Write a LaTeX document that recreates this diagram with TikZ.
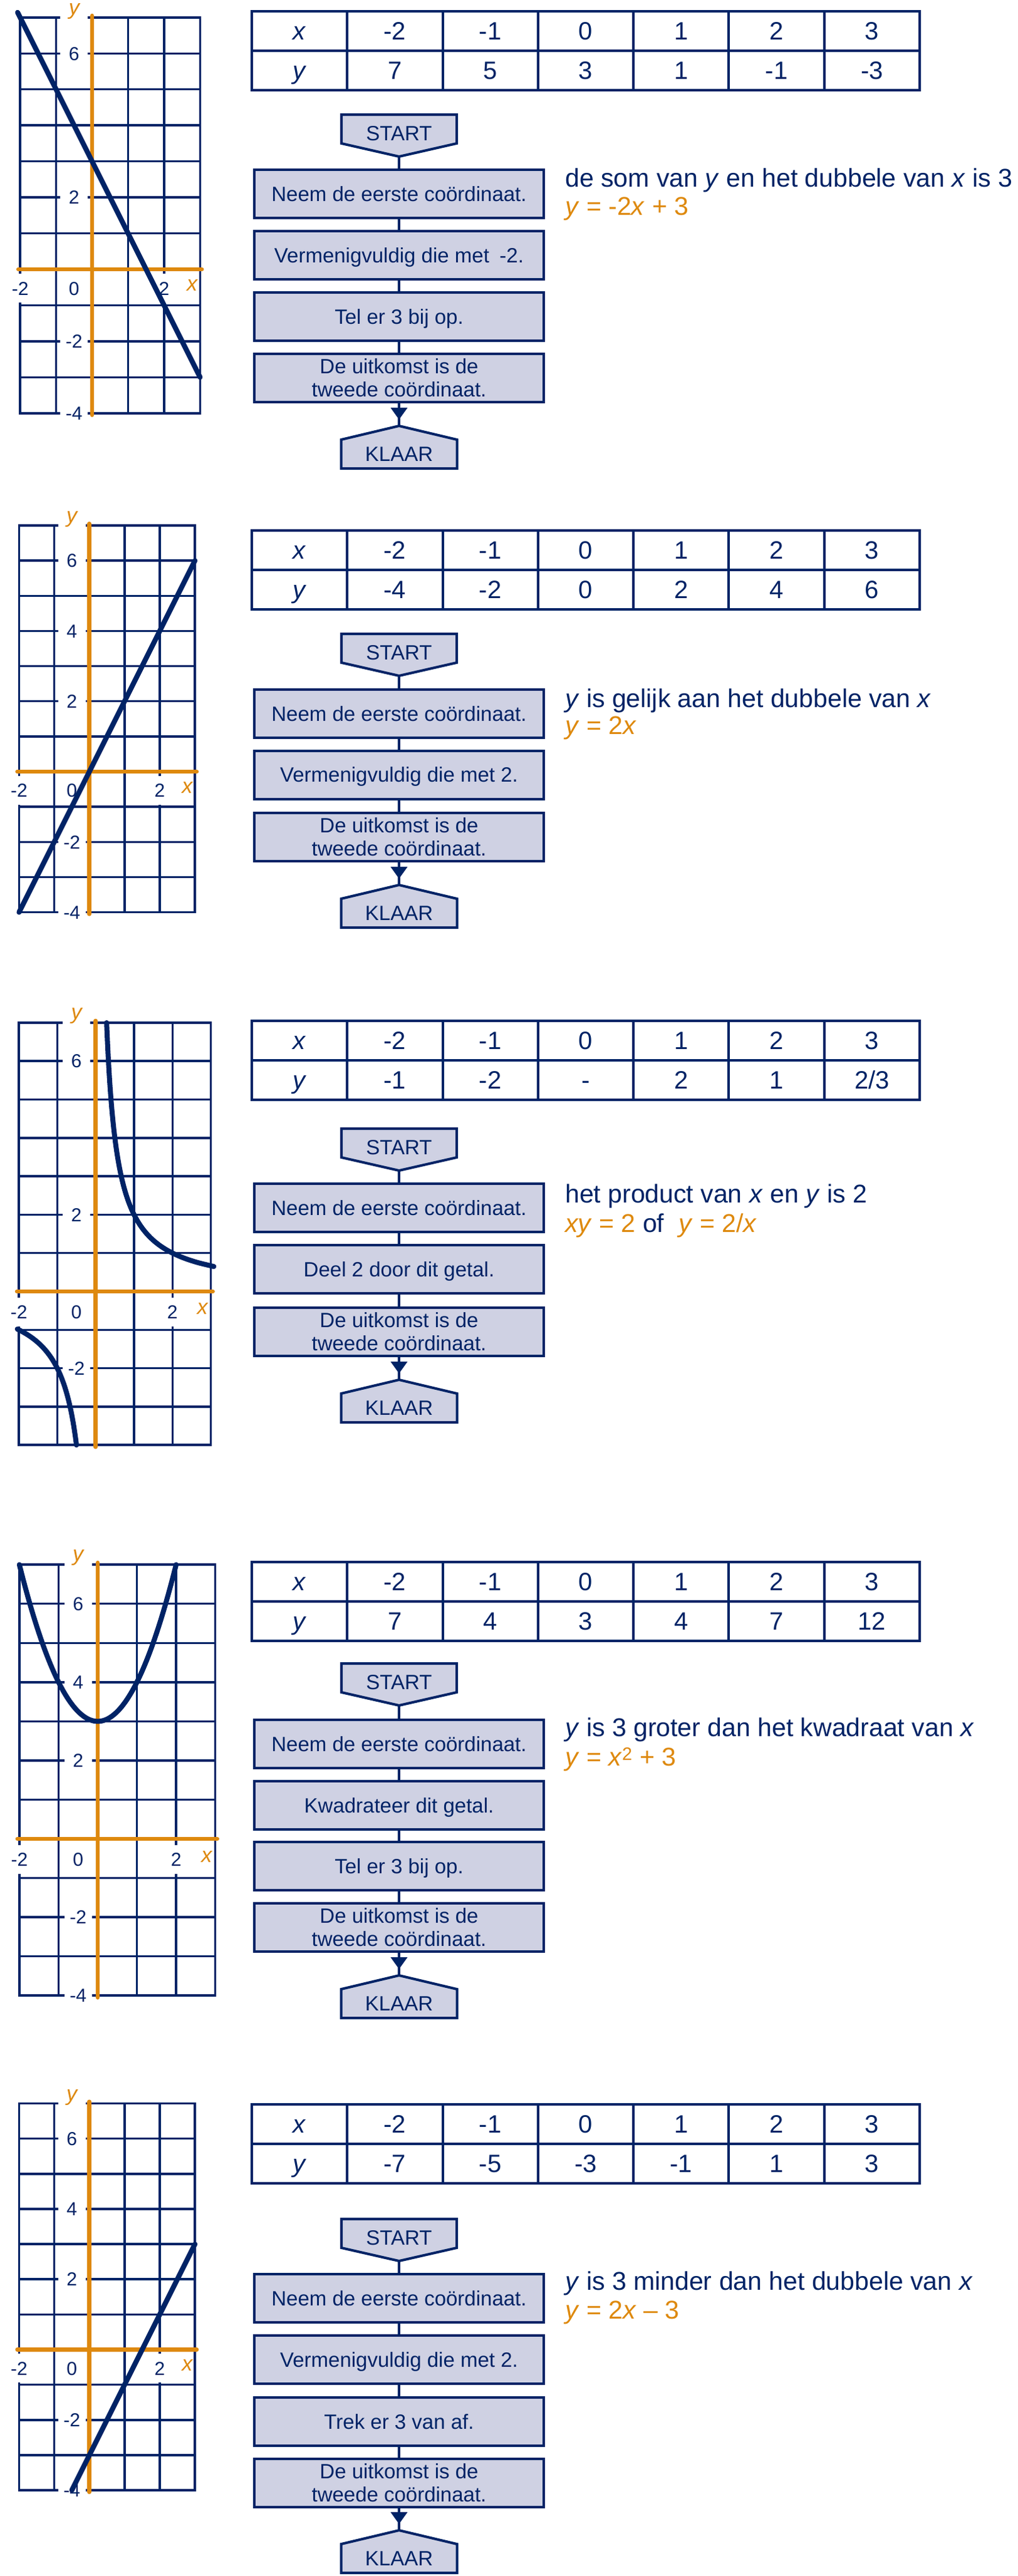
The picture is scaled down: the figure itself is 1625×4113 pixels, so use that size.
\documentclass[tikz,border=0pt]{standalone}
\usepackage{fontspec}
\setmainfont{Liberation Sans}
\usetikzlibrary{arrows.meta,backgrounds}
\definecolor{navy}{RGB}{0,35,102}
\definecolor{orng}{RGB}{222,137,13}
\definecolor{boxfill}{RGB}{207,209,227}
\newcommand{\setfs}[2]{\fontsize{#1bp}{#2bp}\selectfont}
\tikzset{
 gridln/.style={draw=navy, line width=3.5bp, line cap=rect},
 axisln/.style={draw=orng, line width=6.5bp, line cap=round},
 graphcurve/.style={draw=navy, line width=8bp, line cap=round, line join=round},
 glab/.style={fill=white, text=navy, font=\setfs{30}{30}, inner xsep=3bp, inner ysep=2bp, text height=21.5bp, text depth=0bp, outer sep=0pt},
 ylab/.style={glab, minimum width=44bp},
 xlab/.style={glab, minimum height=46bp},
 yname/.style={fill=white, text=orng, font=\setfs{34}{34}\itshape, minimum width=44bp, minimum height=30bp, inner sep=0pt},
 xname/.style={text=orng, font=\setfs{34}{34}\itshape, inner sep=0pt},
 tabline/.style={draw=navy, line width=4bp},
 tabtxt/.style={text=navy, font=\setfs{40}{40}, inner sep=0pt, text height=28.6bp, text depth=0bp},
 flowbox/.style={draw=navy, fill=boxfill, line width=4bp, minimum width=462bp, minimum height=77bp, inner sep=0pt, outer sep=0pt, text=navy},
 onebox/.style={flowbox, font=\setfs{33}{37}, text height=23.6bp, text depth=0bp},
 twobox/.style={flowbox, font=\setfs{33}{37}, align=center},
 startnode/.style={text=navy, font=\setfs{33}{37}, minimum width=184bp, minimum height=67bp, inner sep=0pt, outer sep=0pt, text height=23.6bp, text depth=7bp},
 klaarnode/.style={text=navy, font=\setfs{33}{37}, minimum width=185bp, minimum height=46bp, inner sep=0pt, outer sep=0pt, text height=23.6bp, text depth=0bp},
 shapeln/.style={draw=navy, fill=boxfill, line width=4bp, line join=miter},
 conn/.style={draw=navy, line width=4bp},
 tipconn/.style={conn, -{Triangle[width=26bp,length=19bp]}, shorten >=10bp},
 eqtxt/.style={text=navy, font=\setfs{41}{41}, inner sep=0pt, anchor=base west},
 eqor/.style={eqtxt, text=orng}
}
% graph panel: #1 X0, #2 Y0, #3 unit, #4 prefix, #5 y labels, #6 curve
\newcommand{\gridpanel}[6]{%
 \begin{scope}[shift={(#1,#2)}, x=#3bp, y=#3bp]
  \foreach \i in {-2,...,3} \draw[gridln] (\i,-4) -- (\i,7);
  \foreach \j in {-4,...,7} \draw[gridln] (-2,\j) -- (3,\j);
  \foreach \t [count=\c] in {#5} \node[ylab] (#4yl\c) at (-0.5,\t) {\t};
  \node[yname] (#4ny) at (-0.5,7.17) {y};
  \node[xlab] (#4xa) at (-2,-0.53) {-2};
  \node[xlab] (#4xb) at (-0.5,-0.53) {0};
  \node[xlab] (#4xc) at (2,-0.53) {2};
  \node[xname] (#4nx) at (2.78,-0.45) {x};
  \draw[axisln] (-2.05,0) -- (3.05,0);
  \draw[axisln] (0,-4.05) -- (0,7.05);
  #6
 \end{scope}}
% value table: #1 top, #2 prefix, #3 y values
\newcommand{\valtable}[3]{%
 \draw[tabline] (402,#1) rectangle (1468,#1+126);
 \draw[tabline] (402,#1+63) -- (1468,#1+63);
 \foreach \k in {1,...,6} \draw[tabline] ({402+\k*152.29},#1) -- ({402+\k*152.29},#1+126);
 \node[tabtxt] (#2x0) at (478.1,#1+31.5) {\textit{x}};
 \node[tabtxt] (#2y0) at (478.1,#1+94.5) {\textit{y}};
 \foreach \v [count=\k] in {-2,-1,0,1,2,3} \node[tabtxt] (#2x\k) at ({478.1+\k*152.29},#1+31.5) {\v};
 \foreach \v [count=\k] in {#3} \node[tabtxt] (#2y\k) at ({478.1+\k*152.29},#1+94.5) {\v};
}
% start / klaar outlines
\newcommand{\startshape}[1]{\draw[shapeln] (#1.north west) -- (#1.north east) -- ([yshift=21bp]#1.south east) -- (#1.south) -- ([yshift=21bp]#1.south west) -- cycle;}
\newcommand{\klaarshape}[2]{\draw[shapeln] (#1.south west) -- (#1.north west) -- (#2) -- (#1.north east) -- (#1.south east) -- cycle;}

\begin{document}
\begin{tikzpicture}[x=1bp, y=-1bp]
\begin{scope}[on background layer]
 \fill[white] (0,0) rectangle (1625,4113);
\end{scope}
\useasboundingbox (0,0) rectangle (1625,4113);

% ================= Panel 1 =================
\gridpanel{147}{430}{57.45}{g1}{6,2,-2,-4}{\draw[graphcurve] (-2.07,7.14) -- (3,-3);}
\valtable{18}{t1}{7,5,3,1,-1,-3}
\node[startnode] (p1s) at (637,216.5) {START};
\node[onebox] (p1b1) at (637,309.5) {Neem de eerste coördinaat.};
\node[onebox] (p1b2) at (637,407.5) {Vermenigvuldig die met\enspace-2.};
\node[onebox] (p1b3) at (637,505.5) {Tel er 3 bij op.};
\node[twobox] (p1b4) at (637,603.5) {De uitkomst is de\\tweede coördinaat.};
\node[klaarnode] (p1k) at (637,725) {KLAAR};
\coordinate (p1kt) at ([yshift=22bp]p1k.north);
\begin{scope}[on background layer]
 \startshape{p1s}
 \klaarshape{p1k}{p1kt}
\end{scope}
\draw[conn] (p1s.south) -- (p1b1.north);
\draw[conn] (p1b1.south) -- (p1b2.north);
\draw[conn] (p1b2.south) -- (p1b3.north);
\draw[conn] (p1b3.south) -- (p1b4.north);
\draw[conn] (p1b4.south) -- (p1kt);
\draw[tipconn] (p1b4.south) -- (p1kt);
\node[eqtxt] (p1e) at (902,298) {de som van \textit{y} en het dubbele van \textit{x} is 3};
\node[eqor] (p1f) at (902,343) {\textit{y} = -2\textit{x} + 3};

% ================= Panel 2 =================
\gridpanel{142.7}{1232}{56.15}{g2}{6,4,2,-2,-4}{\draw[graphcurve] (-2,-4) -- (3,6);}
\valtable{847}{t2}{-4,-2,0,2,4,6}
\node[startnode] (p2s) at (637,1045.5) {START};
\node[onebox] (p2b1) at (637,1139.5) {Neem de eerste coördinaat.};
\node[onebox] (p2b2) at (637,1237) {Vermenigvuldig die met 2.};
\node[twobox] (p2b3) at (637,1336.5) {De uitkomst is de\\tweede coördinaat.};
\node[klaarnode] (p2k) at (637,1458) {KLAAR};
\coordinate (p2kt) at ([yshift=22bp]p2k.north);
\begin{scope}[on background layer]
 \startshape{p2s}
 \klaarshape{p2k}{p2kt}
\end{scope}
\draw[conn] (p2s.south) -- (p2b1.north);
\draw[conn] (p2b1.south) -- (p2b2.north);
\draw[conn] (p2b2.south) -- (p2b3.north);
\draw[conn] (p2b3.south) -- (p2kt);
\draw[tipconn] (p2b3.south) -- (p2kt);
\node[eqtxt] (p2e) at (902,1129) {\textit{y} is gelijk aan het dubbele van \textit{x}};
\node[eqor] (p2f) at (902,1172) {\textit{y} = 2\textit{x}};

% ================= Panel 3 =================
\gridpanel{152.7}{2062}{61.3}{g3}{6,2,-2}{%
 \draw[graphcurve] plot[smooth, domain=0.65:7, samples=60, variable=\u] ({2/\u},\u);
 \draw[graphcurve] plot[smooth, domain=-0.98:-4, samples=50, variable=\u] ({2/\u},\u);}
\valtable{1630}{t3}{-1,-2,-,2,1,{2/3}}
\node[startnode] (p3s) at (637,1835.5) {START};
\node[onebox] (p3b1) at (637,1928.5) {Neem de eerste coördinaat.};
\node[onebox] (p3b2) at (637,2026.5) {Deel 2 door dit getal.};
\node[twobox] (p3b3) at (637,2126.5) {De uitkomst is de\\tweede coördinaat.};
\node[klaarnode] (p3k) at (637,2248) {KLAAR};
\coordinate (p3kt) at ([yshift=22bp]p3k.north);
\begin{scope}[on background layer]
 \startshape{p3s}
 \klaarshape{p3k}{p3kt}
\end{scope}
\draw[conn] (p3s.south) -- (p3b1.north);
\draw[conn] (p3b1.south) -- (p3b2.north);
\draw[conn] (p3b2.south) -- (p3b3.north);
\draw[conn] (p3b3.south) -- (p3kt);
\draw[tipconn] (p3b3.south) -- (p3kt);
\node[eqtxt] (p3e) at (902,1920) {het product van \textit{x} en \textit{y} is 2};
\node[eqor] (p3f) at (902,1967) {\textit{xy} = 2 \textcolor{navy}{of}\ \ \textit{y} = 2/\textit{x}};

% ================= Panel 4 =================
\gridpanel{156}{2936}{62.55}{g4}{6,4,2,-2,-4}{\draw[graphcurve] plot[smooth, domain=-2:2, samples=60] (\x,{\x*\x+3});}
\valtable{2494}{t4}{7,4,3,4,7,12}
\node[startnode] (p4s) at (637,2689.5) {START};
\node[onebox] (p4b1) at (637,2784.5) {Neem de eerste coördinaat.};
\node[onebox] (p4b2) at (637,2882.5) {Kwadrateer dit getal.};
\node[onebox] (p4b3) at (637,2979.5) {Tel er 3 bij op.};
\node[twobox] (p4b4) at (637,3077.5) {De uitkomst is de\\tweede coördinaat.};
\node[klaarnode] (p4k) at (637,3199) {KLAAR};
\coordinate (p4kt) at ([yshift=22bp]p4k.north);
\begin{scope}[on background layer]
 \startshape{p4s}
 \klaarshape{p4k}{p4kt}
\end{scope}
\draw[conn] (p4s.south) -- (p4b1.north);
\draw[conn] (p4b1.south) -- (p4b2.north);
\draw[conn] (p4b2.south) -- (p4b3.north);
\draw[conn] (p4b3.south) -- (p4b4.north);
\draw[conn] (p4b4.south) -- (p4kt);
\draw[tipconn] (p4b4.south) -- (p4kt);
\node[eqtxt] (p4e) at (902,2772) {\textit{y} is 3 groter dan het kwadraat van \textit{x}};
\node[eqor] (p4f) at (902,2819) {\textit{y} = \textit{x}\textsuperscript{2} + 3};

% ================= Panel 5 =================
\gridpanel{142.7}{3751.5}{56.15}{g5}{6,4,2,-2,-4}{\draw[graphcurve] (-0.5,-4) -- (3,3);}
\valtable{3360}{t5}{-7,-5,-3,-1,1,3}
\node[startnode] (p5s) at (637,3576.5) {START};
\node[onebox] (p5b1) at (637,3669.5) {Neem de eerste coördinaat.};
\node[onebox] (p5b2) at (637,3767.5) {Vermenigvuldig die met 2.};
\node[onebox] (p5b3) at (637,3866.5) {Trek er 3 van af.};
\node[twobox] (p5b4) at (637,3964.5) {De uitkomst is de\\tweede coördinaat.};
\node[klaarnode] (p5k) at (637,4085) {KLAAR};
\coordinate (p5kt) at ([yshift=22bp]p5k.north);
\begin{scope}[on background layer]
 \startshape{p5s}
 \klaarshape{p5k}{p5kt}
\end{scope}
\draw[conn] (p5s.south) -- (p5b1.north);
\draw[conn] (p5b1.south) -- (p5b2.north);
\draw[conn] (p5b2.south) -- (p5b3.north);
\draw[conn] (p5b3.south) -- (p5b4.north);
\draw[conn] (p5b4.south) -- (p5kt);
\draw[tipconn] (p5b4.south) -- (p5kt);
\node[eqtxt] (p5e) at (902,3656) {\textit{y} is 3 minder dan het dubbele van \textit{x}};
\node[eqor] (p5f) at (902,3702) {\textit{y} = 2\textit{x} – 3};
\end{tikzpicture}
\end{document}
